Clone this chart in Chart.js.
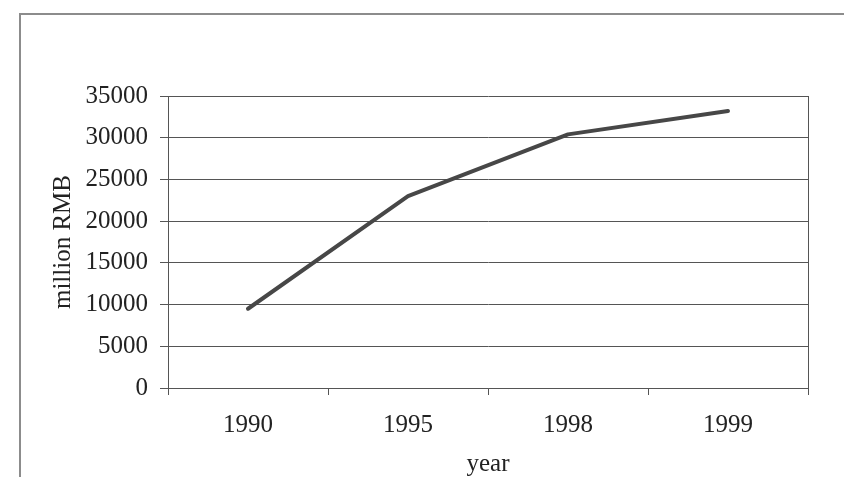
<!DOCTYPE html>
<html>
<head>
<meta charset="utf-8">
<script src="https://cdn.jsdelivr.net/npm/chart.js@4/dist/chart.umd.min.js"></script>
<style>
  html, body { margin:0; padding:0; background:#fff; overflow:hidden; }
  #wrap { position:relative; width:844px; height:477px; }
  #frame { position:absolute; left:19px; top:13px; width:900px; height:600px;
           border-left:2px solid #8c8c8c; border-top:2px solid #8c8c8c; }
  #chart { position:absolute; left:0; top:0; }
</style>
</head>
<body>
<div id="wrap">
  <div id="frame"></div>
  <canvas id="chart" width="844" height="477"></canvas>
</div>
<script>
const years  = ["1990", "1995", "1998", "1999"];
const values = [9500, 23000, 30400, 33200];   // million RMB
const yTicks = [0, 5000, 10000, 15000, 20000, 25000, 30000, 35000];

const INK  = "#222";
const RULE = "#555";
const serif = { family:"'Liberation Serif', 'Times New Roman', serif", size:25 };

new Chart(document.getElementById("chart"), {
  type: "line",
  data: {
    labels: years,
    datasets: [{
      data: values,
      borderColor: "#474747",
      borderWidth: 4,
      pointRadius: 0,
      tension: 0,
      borderCapStyle: "round",
      borderJoinStyle: "round",
    }],
  },
  options: {
    responsive: false,
    animation: false,
    devicePixelRatio: 1,
    layout: { padding: { top:96, right:36, left:0, bottom:0 } },
    plugins: { legend:{ display:false }, tooltip:{ enabled:false } },
    scales: {
      x: {
        offset: true,
        grid: {
          offset: true,
          // only the closing line at the right edge runs through the plot
          color: c => c.type === "tick" ? "transparent" : RULE,
          tickColor: RULE,
          tickLength: 7,
          lineWidth: 1,
        },
        border: { display:true, color:RULE, width:1 },
        ticks: { color:INK, font:serif, padding:15, maxRotation:0 },
        title: { display:true, text:"year", color:INK, font:serif, padding:{ top:0, bottom:-2 } },
        afterFit: s => { s.height = 89; },
      },
      y: {
        min: 0,
        max: 35000,
        afterBuildTicks: s => { s.ticks = yTicks.map(v => ({ value:v })); },
        grid: { color:RULE, tickColor:RULE, tickLength:8, lineWidth:1 },
        border: { display:true, color:RULE, width:1 },
        ticks: { color:INK, font:serif, padding:12, callback: v => String(v) },
        title: { display:true, text:"million RMB", color:INK, font:serif, padding:{ top:48, bottom:0 } },
        afterFit: s => { s.width = 168; },
      },
    },
  },
});
</script>
</body>
</html>
